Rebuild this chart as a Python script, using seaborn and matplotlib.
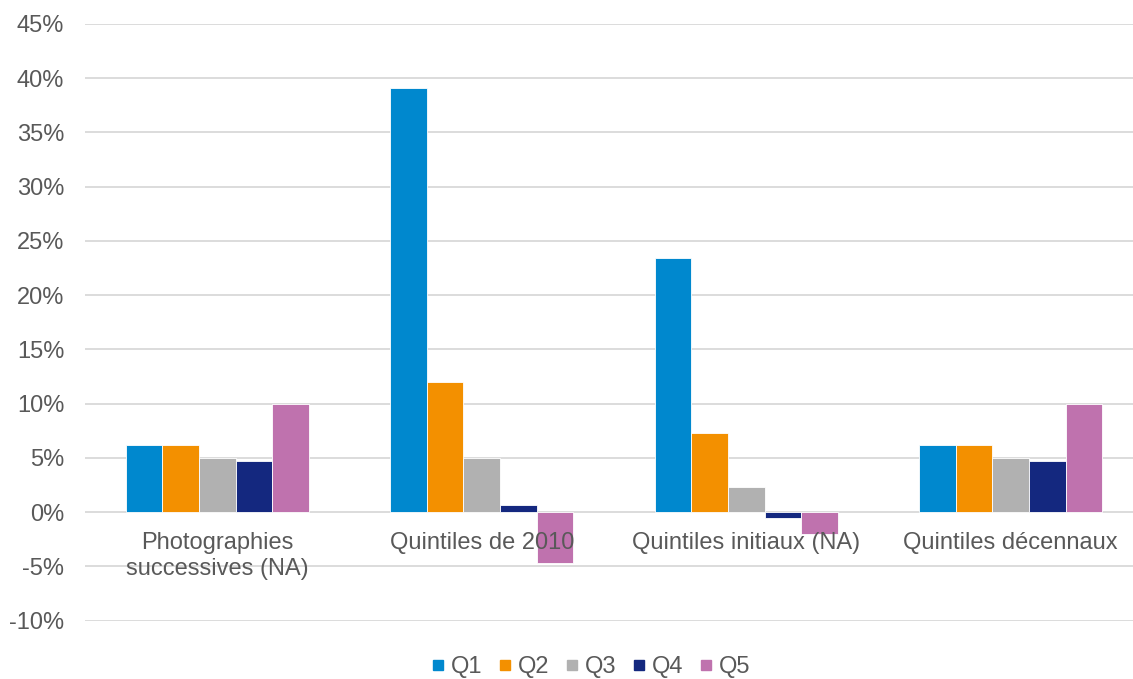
import pandas as pd
import seaborn as sns
import matplotlib.pyplot as plt
from matplotlib.lines import Line2D
from matplotlib.ticker import FuncFormatter

# values (in %)
categories = ['Photographies\nsuccessives (NA)', 'Quintiles de 2010',
              'Quintiles initiaux (NA)', 'Quintiles décennaux']
quintiles = ['Q1', 'Q2', 'Q3', 'Q4', 'Q5']
q1 = [6.2, 39.1, 23.4, 6.2]
q2 = [6.2, 12.0, 7.3, 6.2]
q3 = [5.0, 5.0, 2.3, 5.0]
q4 = [4.7, 0.7, -0.5, 4.7]
q5 = [10.0, -4.7, -2.0, 10.0]
colors = ['#0088CE', '#F39000', '#B1B1B1', '#14287F', '#BF72AE']

df = pd.DataFrame({'Categorie': categories, 'Q1': q1, 'Q2': q2,
                   'Q3': q3, 'Q4': q4, 'Q5': q5})
df_tidy = pd.melt(df, id_vars=['Categorie'], var_name='Quintile',
                  value_name='Valeur')

sns.set_style('white')
plt.rcParams['font.family'] = ['Liberation Sans', 'DejaVu Sans']
text_color = '#595959'
fs = 17

fig = plt.figure(figsize=(11.33, 6.79), dpi=100)
ax = fig.add_axes([85 / 1133, 1 - 620.7 / 679, 1058 / 1133, (620.7 - 24) / 679])

sns.barplot(data=df_tidy, x='Categorie', y='Valeur', hue='Quintile',
            hue_order=quintiles, palette=colors, saturation=1, width=0.69,
            edgecolor='white', linewidth=0.6, ax=ax, legend=False)

ax.set_ylim(-10, 45)
ax.set_xlim(-0.5, 3.5)
ax.set_yticks(range(-10, 50, 5))
ax.yaxis.set_major_formatter(FuncFormatter(lambda v, p: f'{v:.0f}%'))
ax.grid(axis='y', color='#D9D9D9', linewidth=1.3)
ax.set_axisbelow(True)
for s in ax.spines.values():
    s.set_visible(False)
ax.tick_params(axis='y', length=0, pad=15, labelsize=fs, labelcolor=text_color)
ax.tick_params(axis='x', length=0, labelbottom=False)
ax.set_xlabel('')
ax.set_ylabel('')

# category labels sit just under the zero line, drawn over the bars
for i, cat in enumerate(categories):
    ax.annotate(cat, xy=(i, 0), xytext=(0, -14.5), textcoords='offset points',
                ha='center', va='top', fontsize=fs, color=text_color,
                linespacing=1.22, zorder=10)

handles = [Line2D([], [], marker='s', linestyle='none', markersize=7,
                  markerfacecolor=c, markeredgecolor=c) for c in colors]
fig.legend(handles, quintiles, loc='center', bbox_to_anchor=(0.519, 0.017),
           ncol=5, frameon=False, fontsize=fs, handletextpad=0.05,
           columnspacing=0.45, labelcolor=text_color, handlelength=1.0)

fig.savefig('out.png', dpi=100)
